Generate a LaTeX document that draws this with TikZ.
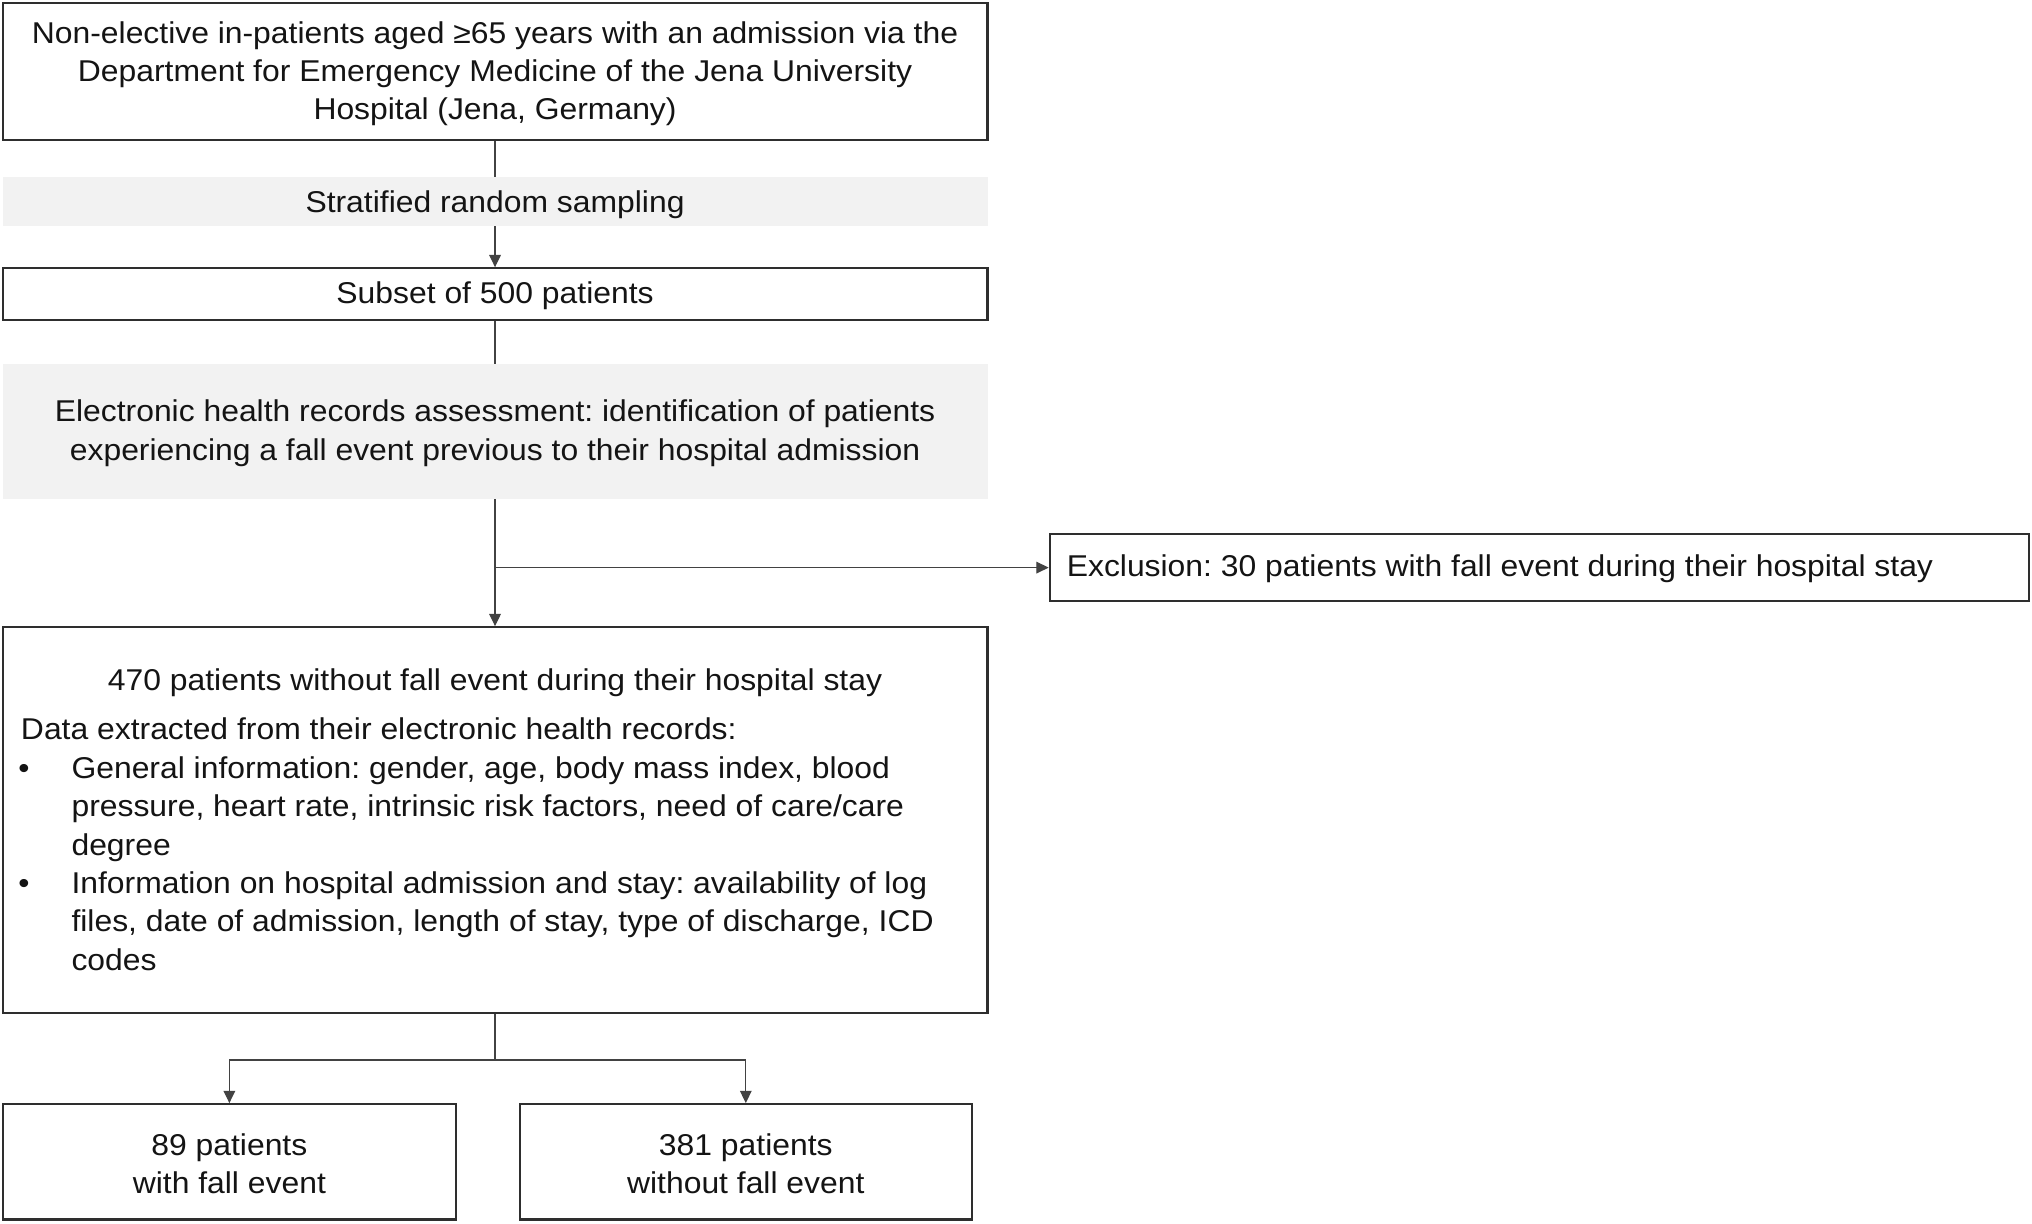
\documentclass[tikz,border=0pt]{standalone}
\usepackage{fontspec}
\setmainfont{Liberation Sans}[FakeStretch=1.06]
\usetikzlibrary{arrows.meta}
\newcommand\myfs{\fontsize{23.2}{29.6}\selectfont}
\frenchspacing
\begin{document}
\begin{tikzpicture}[x=1pt,y=-1pt,
  every node/.style={font=\myfs, text=black!92},
  box/.style={draw=black!82, line width=1.6pt, fill=white, inner sep=0pt},
  bar/.style={fill=black!5, inner sep=0pt},
  ctr/.style={inner sep=0pt, anchor=base},
  txt/.style={inner sep=0pt, anchor=base west},
  conn/.style={draw=black!74, line width=0.9pt},
  arr/.style={conn, -{Triangle[length=9.5pt,width=9pt]}}]
\fill[white] (0,0) rectangle (1568,944);
\useasboundingbox (0,0) rectangle (1568,944);

% boxes
\node[box, minimum width=760pt, minimum height=106pt] (b1) at (382,55) {};
\node[bar, minimum width=760pt, minimum height=38pt] (s1) at (382,155.5) {};
\node[box, minimum width=760pt, minimum height=40pt] (b2) at (382,227) {};
\node[bar, minimum width=760pt, minimum height=104pt] (s2) at (382,333) {};
\node[box, minimum width=760pt, minimum height=298pt] (b3) at (382,633) {};
\node[box, minimum width=756pt, minimum height=52pt] (ex) at (1188,438) {};
\node[box, minimum width=350pt, minimum height=89pt] (b4) at (177,896.5) {};
\node[box, minimum width=349pt, minimum height=89pt] (b5) at (575.5,896.5) {};

% texts
\node[ctr] (b1a) at (382,33.4) {Non-elective in-patients aged ≥65 years with an admission via the};
\node[ctr] (b1b) at (382,63) {Department for Emergency Medicine of the Jena University};
\node[ctr] (b1c) at (382,92.6) {Hospital (Jena, Germany)};
\node[ctr] (s1a) at (382,163.8) {Stratified random sampling};
\node[ctr] (b2a) at (382,234.2) {Subset of 500 patients};
\node[ctr] (s2a) at (382,325.4) {Electronic health records assessment: identification of patients};
\node[ctr] (s2b) at (382,355) {experiencing a fall event previous to their hospital admission};
\node[ctr] (t3) at (382,532.5) {470 patients without fall event during their hospital stay};
\node[txt] (l1) at (16,571) {Data extracted from their electronic health records:};
\node[txt] (d1) at (14,600.6) {•};
\node[txt] (l2) at (55,600.6) {General information: gender, age, body mass index, blood};
\node[txt] (l3) at (55,630.2) {pressure, heart rate, intrinsic risk factors, need of care/care};
\node[txt] (l4) at (55,659.8) {degree};
\node[txt] (d2) at (14,689.4) {•};
\node[txt] (l5) at (55,689.4) {Information on hospital admission and stay: availability of log};
\node[txt] (l6) at (55,719) {files, date of admission, length of stay, type of discharge, ICD};
\node[txt] (l7) at (55,748.6) {codes};
\node[txt] (exa) at (823,445) {Exclusion: 30 patients with fall event during their hospital stay};
\node[ctr] (b4a) at (177,891.5) {89 patients};
\node[ctr] (b4b) at (177,921) {with fall event};
\node[ctr] (b5a) at (575.5,891.5) {381 patients};
\node[ctr] (b5b) at (575.5,921) {without fall event};

% connectors
\coordinate (j1) at (s2.south |- ex.west);
\coordinate (j2) at (382,818);
\draw[conn] (b1.south) -- (s1.north);
\draw[arr] (s1.south) -- (b2.north);
\draw[conn] (b2.south) -- (s2.north);
\draw[arr] (s2.south) -- (b3.north);
\draw[arr] (j1) -- (ex.west);
\draw[conn] (b3.south) -- (j2);
\draw[arr] (j2) -| (b4.north);
\draw[arr] (j2) -| (b5.north);
\end{tikzpicture}
\end{document}
